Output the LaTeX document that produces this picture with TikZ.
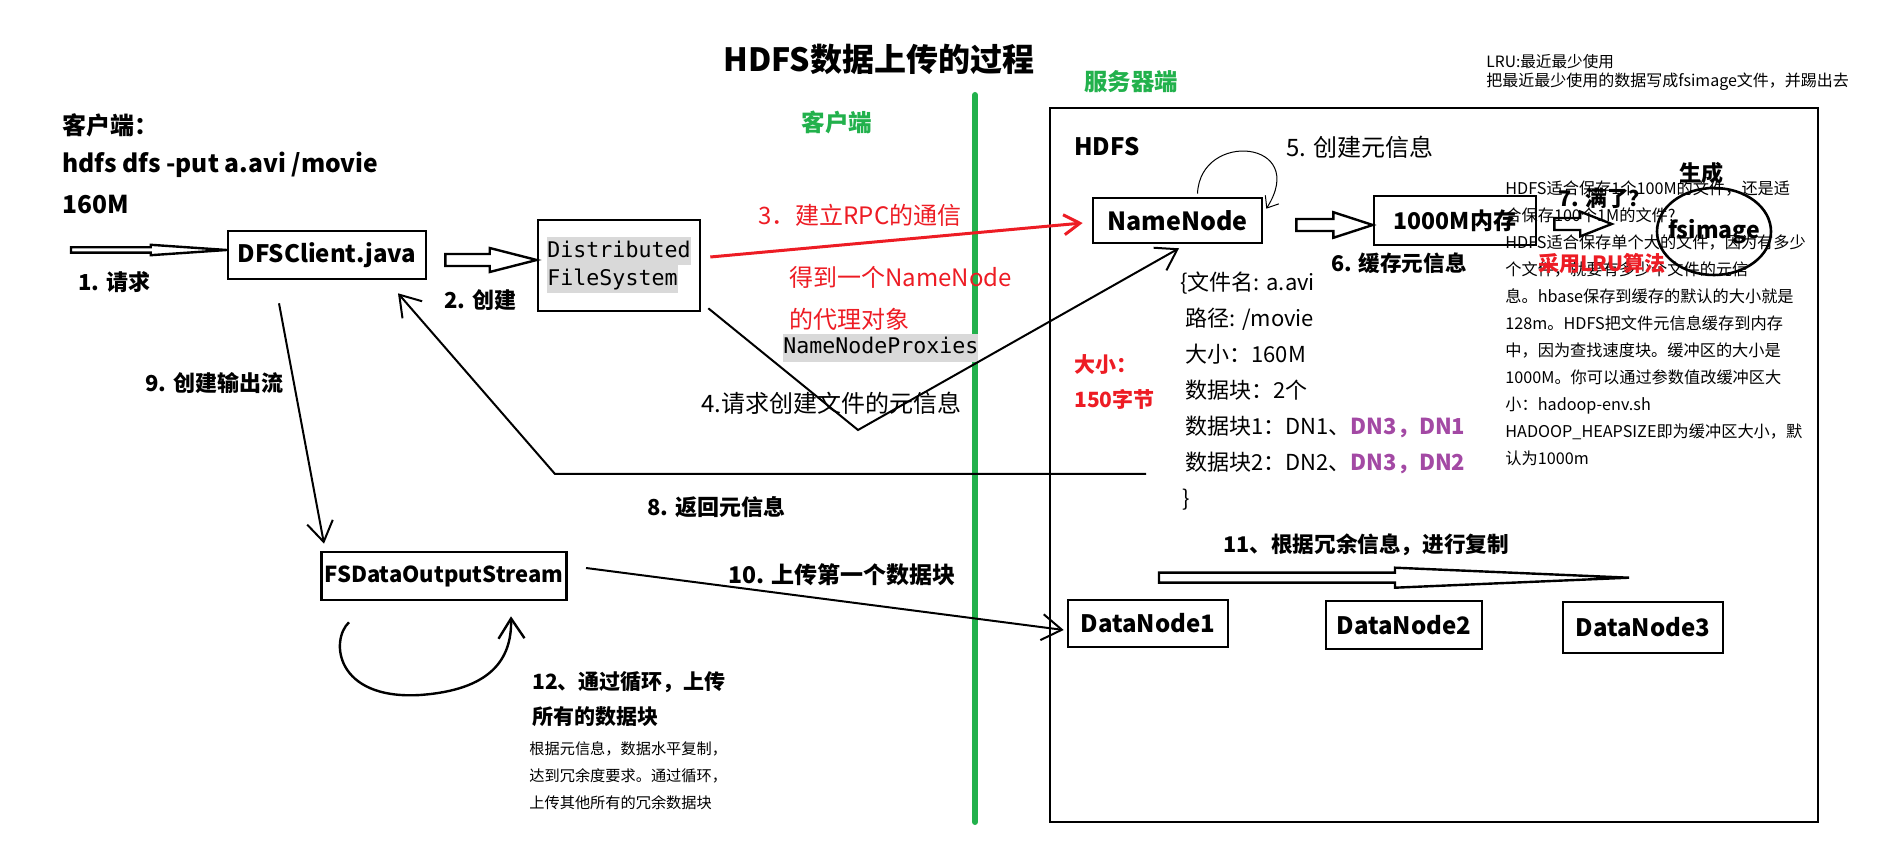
\documentclass[tikz,border=0pt]{standalone}
\usepackage{fontspec}
\setmainfont{Noto Sans CJK SC}
\newfontfamily\codefont{DejaVu Sans Mono}
\usetikzlibrary{arrows.meta,calc,shapes.geometric}
\definecolor{paintgreen}{HTML}{22B14C}
\definecolor{paintred}{HTML}{ED1C24}
\definecolor{paintpurple}{HTML}{A349A4}
\definecolor{codebg}{HTML}{D9D9D9}
\newcommand{\fsz}[2]{\fontsize{#1}{#2}\selectfont}
\newcommand{\hlcode}[1]{{\setlength{\fboxsep}{0pt}\colorbox{codebg}{\strut#1}}}
% hollow block arrow: start, end, shaft half, head half, head length
\newcommand{\fatarrow}[5]{%
  \draw[fat] let \p1=(#1), \p2=(#2) in
    (\x1,\y1+#3) -- (\x2-#5,\y1+#3) -- (\x2-#5,\y1+#4) -- (\x2,\y1)
    -- (\x2-#5,\y1-#4) -- (\x2-#5,\y1-#3) -- (\x1,\y1-#3) -- cycle;}

\begin{document}
\begin{tikzpicture}[x=0.5pt,y=-0.5pt,
  box/.style={draw,line width=1.3pt,inner sep=0pt,font=\bfseries\fsz{12}{14}},
  lbl/.style={anchor=west,inner sep=0pt,font=\bfseries\fsz{11}{13}},
  txt/.style={anchor=north west,inner sep=0pt,align=left},
  fat/.style={line width=1.2pt},
  link/.style={line width=1pt,-{Straight Barb[length=10pt,width=13pt]}}]
  \useasboundingbox (0,0) rectangle (1902,855);

  % headings
  \node (title) [font=\bfseries\fsz{16}{18}] at (879,59) {HDFS数据上传的过程};
  \node (server) [font=\bfseries\fsz{11.7}{14},text=paintgreen] at (1131,82) {服务器端};
  \node (clientg) [font=\bfseries\fsz{11.8}{14},text=paintgreen] at (837,122) {客户端};
  \node (lrua) [lbl,font=\fsz{7.8}{10}] at (1486,62) {LRU:最近最少使用};
  \node (lrub) [lbl,font=\fsz{8}{10}] at (1486,82) {把最近最少使用的数据写成fsimage文件，并踢出去};
  \draw[paintgreen,line width=3pt,line cap=round] (975,95) -- (975,822);

  % client side
  \node (client) [lbl,font=\bfseries\fsz{12}{14}] at (62,125) {客户端：};
  \node (cmd) [lbl,font=\bfseries\fsz{12.3}{14}] at (62,165) {hdfs dfs -put a.avi /movie};
  \node (fsize) [lbl,font=\bfseries\fsz{12.3}{14}] at (62,205) {160M};
  \node (dfs) [box,minimum width=99pt,minimum height=24pt] at (327,255) {DFSClient.java};
  \node (dist) [box,minimum width=81pt,minimum height=45.5pt,font=\codefont\fsz{10.8}{14},align=left]
    at (619,265.5) {\hlcode{Distributed}\\\hlcode{FileSystem}};
  \node (fsout) [box,minimum width=122.75pt,minimum height=24pt,font=\bfseries\fsz{11}{13}] at (444,576) {FSDataOutputStream};
  \coordinate (req) at (71,250);

  % server side
  \node (hdfsbox) [draw,line width=1.3pt,minimum width=384pt,minimum height=357pt] at (1434,465) {};
  \node (hdfs) [lbl,font=\bfseries\fsz{12}{14}] at (1074,147) {HDFS};
  \node (nn) [box,minimum width=84.5pt,minimum height=22.5pt,font=\bfseries\fsz{12.5}{14}] at (1177.5,220.5) {NameNode};
  \node (mem) [box,minimum width=81pt,minimum height=24.5pt,font=\bfseries\fsz{11.5}{14}] at (1455,220.5) {1000M内存};
  \node (fsimg) [ellipse,draw,line width=1.3pt,inner sep=0pt,minimum width=57pt,minimum height=43.5pt] at (1714,231.5) {};
  \node (dn1) [box,minimum width=80pt,minimum height=23.5pt] at (1148,623.5) {DataNode1};
  \node (dn2) [box,minimum width=78pt,minimum height=24pt] at (1404,625) {DataNode2};
  \node (dn3) [box,minimum width=80pt,minimum height=25.5pt] at (1643,627.5) {DataNode3};

  % notes inside the server box
  \node (lrunote) [txt,font=\fsz{8.1}{13.5}] at (1505,180) {HDFS适合保存1个100M的文件，还是适\\合保存100个1M的文件?\\HDFS适合保存单个大的文件，因为有多少\\个文件，就要有多少个文件的元信\\息。hbase保存到缓存的默认的大小就是\\128m。HDFS把文件元信息缓存到内存\\中，因为查找速度块。缓冲区的大小是\\1000M。你可以通过参数值改缓冲区大\\小：hadoop-env.sh\\HADOOP\_HEAPSIZE即为缓冲区大小，默\\认为1000m};
  \node (fsimgtxt) [font=\bfseries\fsz{11.5}{14}] at (fsimg.center) {fsimage};
  \node (gen) [lbl,font=\bfseries\fsz{11}{13}] at (1679,173) {生成};
  \node (lbl7) [lbl,font=\bfseries\fsz{10.8}{13}] at (1558,198) {7. 满了？};
  \node (lru) [lbl,font=\bfseries\fsz{10.5}{13},text=paintred] at (1538,263) {采用LRU算法};
  \node (lbl5) [lbl,font=\fsz{12}{14}] at (1286,147) {5. 创建元信息};
  \node (lbl6) [lbl,font=\bfseries\fsz{10.8}{13}] at (1331,263) {6. 缓存元信息};
  \node (meta) [txt,font=\fsz{11}{18}] at (1180,271) {\{文件名: a.avi\\\hspace{2.5pt}路径: /movie\\\hspace{2.5pt}大小：160M\\\hspace{2.5pt}数据块：2个\\\hspace{2.5pt}数据块1：DN1、\textcolor{paintpurple}{\bfseries DN3，DN1}\\\hspace{2.5pt}数据块2：DN2、\textcolor{paintpurple}{\bfseries DN3，DN2}\\\hspace{1pt}\}};
  \node (rsize) [txt,font=\bfseries\fsz{10.5}{17.5},text=paintred] at (1074,354) {大小：\\150字节};
  \node (lbl11) [lbl,font=\bfseries\fsz{10.8}{13}] at (1223,545) {11、根据冗余信息，进行复制};

  % labels on the client side
  \node (lbl1) [lbl] at (78,282) {1. 请求};
  \node (lbl2) [lbl] at (444,300) {2. 创建};
  \node (lbl3) [lbl,font=\fsz{12}{14},text=paintred] at (758,215) {3．建立RPC的通信};
  \node (proxy) [txt,font=\fsz{12}{21},text=paintred] at (789,266) {得到一个NameNode\\的代理对象};
  \node (nnp) [lbl,font=\codefont\fsz{10.8}{14}] at (783,348) {\hlcode{NameNodeProxies}};
  \node (lbl4) [lbl,font=\fsz{12}{14}] at (701,403) {4.请求创建文件的元信息};
  \node (lbl8) [lbl] at (647,507) {8. 返回元信息};
  \node (lbl9) [lbl] at (145,383) {9. 创建输出流};
  \node (lbl10) [lbl,font=\bfseries\fsz{11.5}{13}] at (728,575) {10. 上传第一个数据块};
  \node (lbl12) [txt,font=\bfseries\fsz{10.5}{17.5}] at (532,671) {12、通过循环，上传\\所有的数据块};
  \node (note12) [txt,font=\fsz{7.6}{13.5}] at (529,741) {根据元信息，数据水平复制，\\达到冗余度要求。通过循环，\\上传其他所有的冗余数据块};

  % hollow arrows
  \fatarrow{req}{dfs.west}{1.35pt}{2.6pt}{38pt}
  \fatarrow{$(dfs.east)+(18,5)$}{dist.west}{3pt}{6pt}{23.5pt}
  \fatarrow{$(nn.east)+(33,4.5)$}{mem.west}{3pt}{6.4pt}{19.7pt}
  \fatarrow{$(mem.east)+(17,3.5)$}{$(fsimg.west)+(-44,0)$}{3pt}{6.2pt}{15.75pt}
  \fatarrow{$(dn1.north)+(11,-21)$}{$(dn3.north)+(-14,-21)$}{2.5pt}{5pt}{117pt}

  % connectors
  \coordinate (bend4) at (858,430);
  \coordinate (ret8) at (1146,474);
  \coordinate (bend8) at (555,474);
  \draw[paintred,line width=1.5pt,-{Straight Barb[length=8pt,width=10pt]}]
    ($(dist.east)+(9,-8.5)$) -- ($(nn.west)+(-9,2.5)$);
  \draw[link] ($(dist.south east)+(7,-4)$) -- (bend4) -- ($(nn.south)+(1.5,4)$);
  \draw[link] (ret8) -- (bend8) -- ($(dfs.south)+(71,13)$);
  \draw[link] ($(dfs.south)+(-48,23)$) -- ($(fsout.north)+(-120,-7)$);
  \draw[link] ($(fsout.east)+(18,-8)$) -- ($(dn1.west)+(-3,6.5)$);
  \draw[line width=0.5pt,-{Straight Barb[length=5pt,width=8pt]}]
    ($(nn.north)+(20,-3)$) .. controls (1200,130) and (1310,140) .. ($(nn.north east)+(3,12)$);
  \draw[line width=1.2pt,-{Straight Barb[length=10pt,width=13pt]}]
    ($(fsout.south)+(-95,21)$) .. controls (330,640) and (335,700) .. (420,695)
    .. controls (490,690) and (512,660) .. ($(fsout.south)+(67,15)$);
\end{tikzpicture}
\end{document}
